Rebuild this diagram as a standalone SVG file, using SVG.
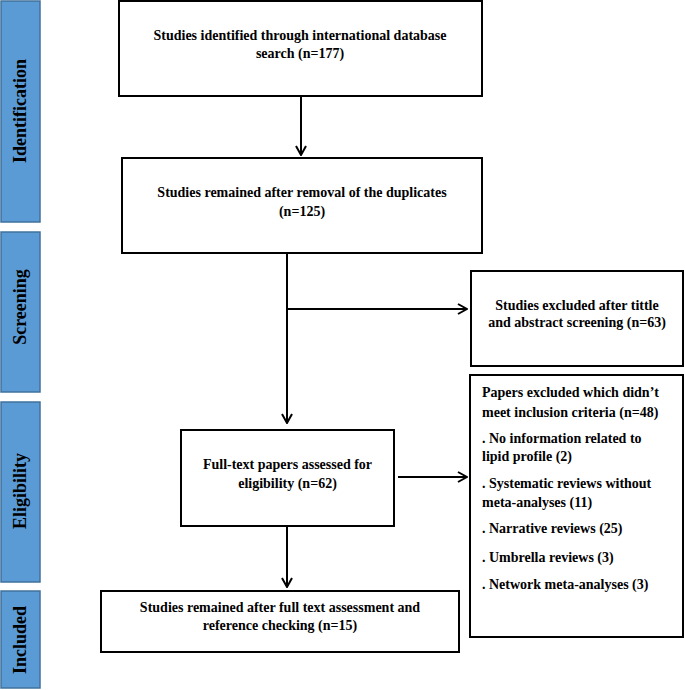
<svg xmlns="http://www.w3.org/2000/svg" width="685" height="690" viewBox="0 0 685 690">
<defs>
<marker id="arr" viewBox="0 0 12 12" refX="11" refY="6" markerWidth="12" markerHeight="12" markerUnits="userSpaceOnUse" orient="auto">
<path d="M2,1 L11,6 L2,11" fill="none" stroke="#000" stroke-width="2"/>
</marker>
<style>
.side{fill:#5B9BD5;stroke:#41719C;stroke-width:1.5}
.sl{font-family:"Liberation Serif","Times New Roman",serif;font-weight:bold;font-size:18px;fill:#000;text-anchor:middle;dominant-baseline:central}
.box{fill:#fff;stroke:#000;stroke-width:2}
.t{font-family:"Liberation Serif","Times New Roman",serif;font-weight:bold;font-size:14px;fill:#000;text-anchor:middle}
.tl{font-family:"Liberation Serif","Times New Roman",serif;font-weight:bold;font-size:14px;fill:#000}
.c{fill:none;stroke:#000;stroke-width:2}
</style>
</defs>
<rect width="685" height="690" fill="#fff"/>
<g id="stage-identification"><rect class="side" x="1" y="1" width="39" height="221"/><text class="sl" transform="translate(20,111) rotate(-90)">Identification</text></g>
<g id="stage-screening"><rect class="side" x="1" y="232" width="39" height="160"/><text class="sl" transform="translate(20,307) rotate(-90)">Screening</text></g>
<g id="stage-eligibility"><rect class="side" x="1" y="402" width="39" height="180"/><text class="sl" transform="translate(20,491) rotate(-90)">Eligibility</text></g>
<g id="stage-included"><rect class="side" x="1" y="591" width="39" height="97"/><text class="sl" transform="translate(20,640) rotate(-90)">Included</text></g>
<g id="identified"><rect class="box" x="119" y="1" width="363" height="95"/><text class="t" x="300" y="40">Studies identified through international database</text><text class="t" x="300" y="58">search (n=177)</text></g>
<g id="deduplicated"><rect class="box" x="122" y="158" width="360" height="95"/><text class="t" x="302" y="197">Studies remained after removal of the duplicates</text><text class="t" x="302" y="216">(n=125)</text></g>
<g id="excluded-screening"><rect class="box" x="471" y="271" width="212" height="95"/><text class="t" x="577" y="310">Studies excluded after tittle</text><text class="t" x="577" y="327">and abstract screening (n=63)</text></g>
<g id="fulltext"><rect class="box" x="181" y="430" width="213" height="96"/><text class="t" x="287.5" y="469">Full-text papers assessed for</text><text class="t" x="287.5" y="488">eligibility (n=62)</text></g>
<g id="excluded-eligibility"><rect class="box" x="470" y="375" width="213" height="262"/>
<text class="tl" x="482" y="397">Papers excluded which didn’t</text>
<text class="tl" x="482" y="417">meet inclusion criteria (n=48)</text>
<text class="tl" x="482" y="443">. No information related to</text>
<text class="tl" x="482" y="461">lipid profile (2)</text>
<text class="tl" x="482" y="488">. Systematic reviews without</text>
<text class="tl" x="482" y="507">meta-analyses (11)</text>
<text class="tl" x="482" y="533">. Narrative reviews (25)</text>
<text class="tl" x="482" y="562">. Umbrella reviews (3)</text>
<text class="tl" x="482" y="589">. Network meta-analyses (3)</text>
</g>
<g id="included"><rect class="box" x="101" y="591" width="358" height="61"/><text class="t" x="280" y="612">Studies remained after full text assessment and</text><text class="t" x="280" y="630">reference checking (n=15)</text></g>
<g id="connectors">
<line class="c" x1="301" y1="96" x2="301" y2="155" marker-end="url(#arr)"/>
<line class="c" x1="287" y1="253" x2="287" y2="423" marker-end="url(#arr)"/>
<line class="c" x1="287" y1="309" x2="467" y2="309" marker-end="url(#arr)"/>
<line class="c" x1="398" y1="477" x2="467" y2="477" marker-end="url(#arr)"/>
<line class="c" x1="287" y1="526" x2="287" y2="587" marker-end="url(#arr)"/>
</g>
</svg>
